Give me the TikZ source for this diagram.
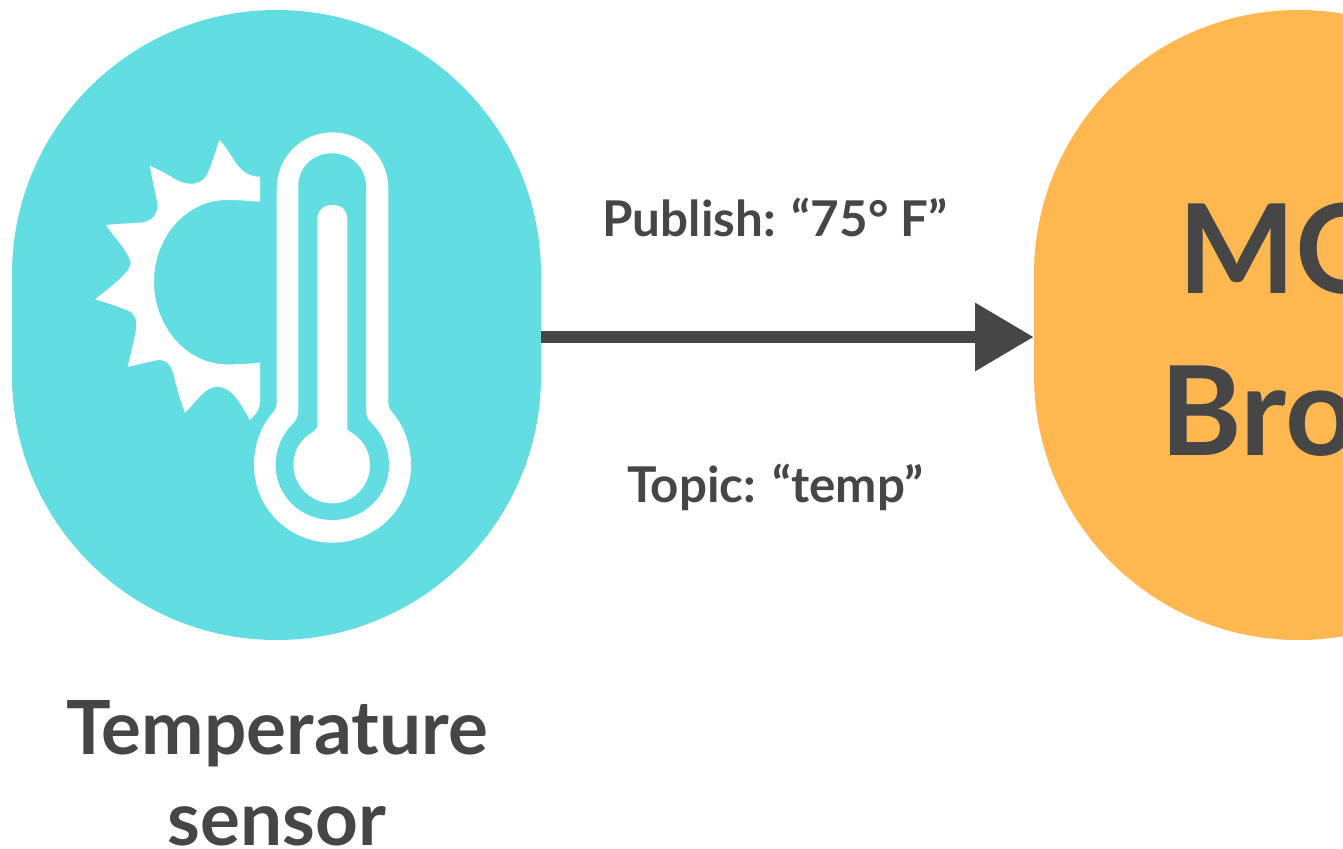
\documentclass[tikz,border=0pt]{standalone}
\usepackage{fontspec}
\setmainfont{Lato}
\usepackage{xcolor}
\usetikzlibrary{arrows.meta}
\definecolor{sensorblue}{HTML}{62DEE3}
\definecolor{brokerorange}{HTML}{FFB74F}
\definecolor{textgray}{HTML}{464646}

\begin{document}
\begin{tikzpicture}[x=0.75pt, y=-0.75pt, blob/.style={rectangle, minimum width=396.75pt, minimum height=472.5pt, rounded corners=198.3pt, inner sep=0pt}, msg/.style={font=\fontsize{37}{44}\bfseries\selectfont, text=textgray, inner sep=0pt}, big/.style={font=\fontsize{93}{121}\bfseries\selectfont, text=textgray, inner sep=0pt, anchor=base west}]
\useasboundingbox (0,0) rectangle (1343,849);
\node[blob, fill=sensorblue] (sensor) at (276.5,325) {};
\node[blob, fill=brokerorange] (broker) at (1298.5,325) {};
\node[msg] (publish) at (775,217) {Publish: “75° F”};
\node[msg] (topic) at (775,487) {Topic: “temp”};
\node[font=\fontsize{56}{68}\bfseries\selectfont, text=textgray, align=center, inner sep=0pt, anchor=base] (name) at (277,845) {Temperature\\sensor};
\node[big] (mq) at (1178,293) {MQ};
\node[big] (bro) at (1160,455) {Bro};
\draw [line width=9pt, textgray, -{Triangle[length=44pt, width=49pt]}] ([yshift=-9pt]sensor.east) -- ([yshift=-9pt]broker.west);
\begin{scope}[shift={(80,120)}, x=0.25pt, y=-0.25pt]
\fill [white] (540,170) .. controls (470,170) and (460,100) .. (418,60) .. controls (405,100) and (395,130) .. (385,155) .. controls (370,195) and (330,200) .. (290,180) .. controls (265,165) and (240,150) .. (210,138) .. controls (215,175) and (225,210) .. (232,250) .. controls (235,285) and (215,305) .. (180,308) .. controls (145,310) and (110,312) .. (78,315) .. controls (100,350) and (135,380) .. (152,425) .. controls (158,450) and (100,495) .. (45,538) .. controls (85,550) and (115,560) .. (145,572) .. controls (165,582) and (172,600) .. (168,630) .. controls (160,670) and (152,705) .. (143,740) .. controls (175,735) and (205,725) .. (235,720) .. controls (265,720) and (275,740) .. (282,770) .. controls (292,810) and (302,845) .. (315,878) .. controls (345,850) and (375,800) .. (410,800) .. controls (460,800) and (485,860) .. (510,900) .. controls (525,885) and (540,870) .. (540,845) -- (540,728) .. controls (505,732) and (470,733) .. (440,733) .. controls (320,733) and (222,620) .. (222,485) .. controls (222,350) and (320,240) .. (440,240) .. controls (475,240) and (510,243) .. (540,245) -- cycle;
\fill [white] (590,850) -- (590,205) .. controls (590,112) and (665,37) .. (757,37) .. controls (850,37) and (925,112) .. (925,205) -- (925,850) .. controls (925,865) and (935,875) .. (943,885) .. controls (975,925) and (993,980) .. (993,1035) .. controls (993,1165) and (887,1268) .. (757,1268) .. controls (627,1268) and (522,1165) .. (522,1035) .. controls (522,980) and (540,925) .. (572,885) .. controls (582,875) and (590,865) .. (590,850) -- cycle;
\fill [sensorblue] (655,870) -- (655,200) .. controls (655,140) and (700,100) .. (757,100) .. controls (815,100) and (858,145) .. (858,200) -- (858,870) .. controls (858,890) and (865,900) .. (875,910) .. controls (905,940) and (927,985) .. (927,1035) .. controls (927,1128) and (851,1200) .. (757,1200) .. controls (663,1200) and (587,1128) .. (587,1035) .. controls (587,985) and (610,940) .. (635,915) .. controls (650,900) and (655,890) .. (655,870) -- cycle;
\fill [white] (712,910) -- (712,300) .. controls (712,270) and (730,255) .. (757,255) .. controls (785,255) and (802,270) .. (802,300) -- (802,925) .. controls (802,930) and (805,932) .. (810,935) .. controls (845,955) and (870,990) .. (870,1035) .. controls (870,1098) and (820,1150) .. (757,1150) .. controls (694,1150) and (640,1098) .. (640,1035) .. controls (640,990) and (665,955) .. (700,935) .. controls (708,930) and (712,925) .. (712,910) -- cycle;
\end{scope}
\end{tikzpicture}
\end{document}
